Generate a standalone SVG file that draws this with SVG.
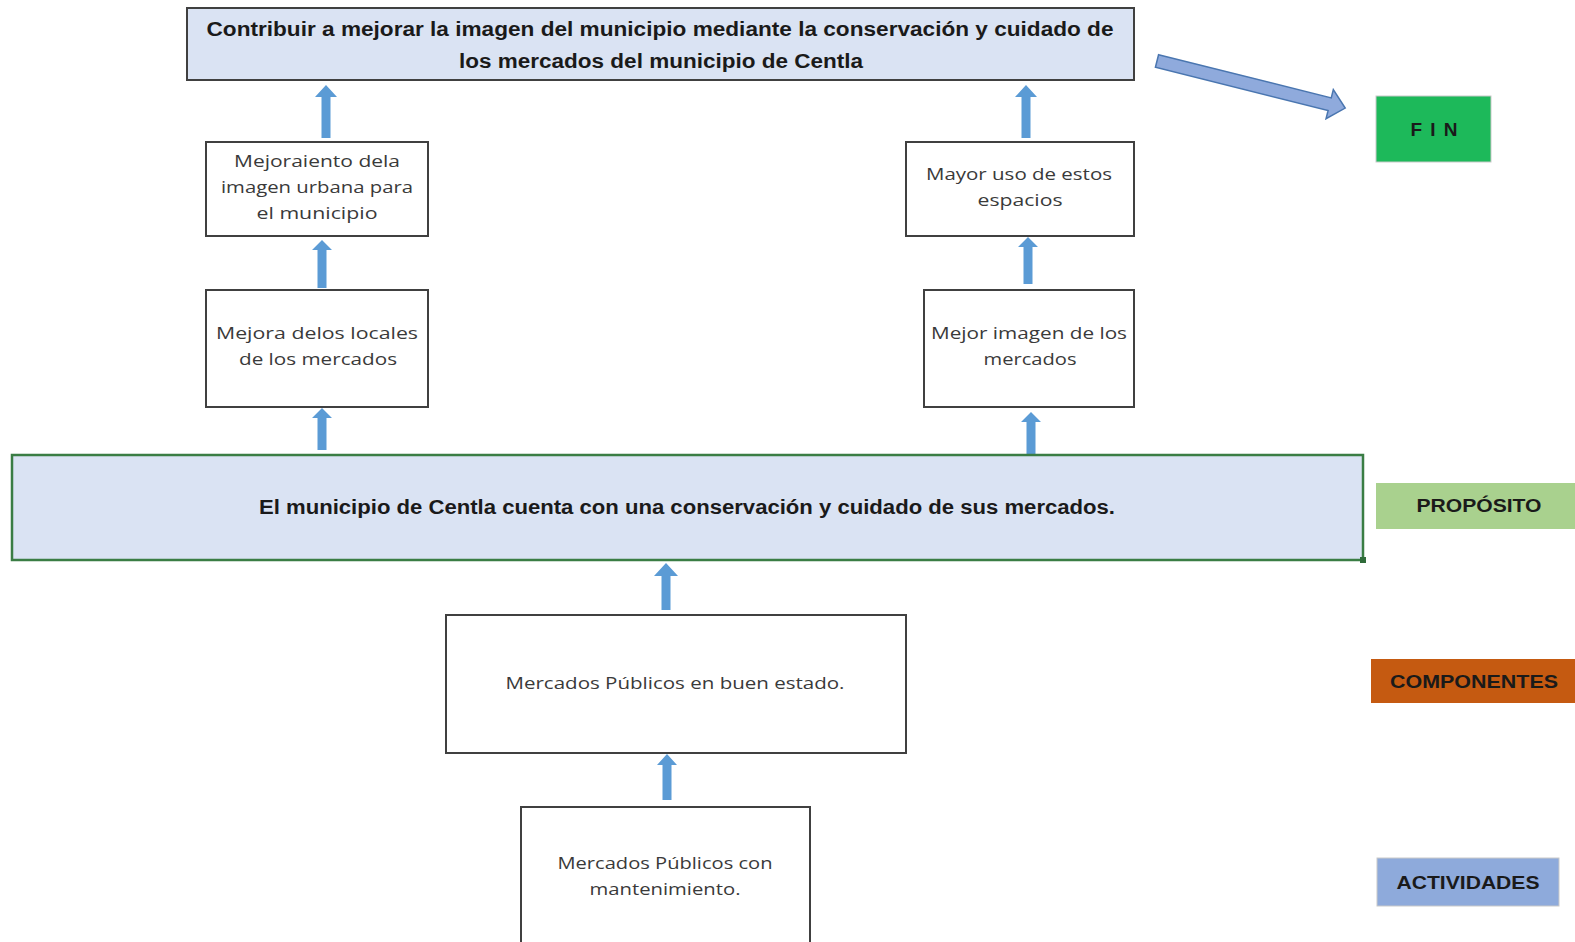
<svg xmlns="http://www.w3.org/2000/svg" width="1575" height="942" viewBox="0 0 1575 942">
<style>
.box{fill:#ffffff;stroke:#404040;stroke-width:2}
.blue{fill:#dae3f3;stroke:#404040;stroke-width:2}
.bold{font-family:"Liberation Sans",Arial,sans-serif;font-weight:bold;font-size:20px;fill:#1a1a1a}
.t{font-family:"Open Sans","DejaVu Sans",sans-serif;font-size:16.5px;fill:#3a3a3a}
.lab{font-family:"Liberation Sans",Arial,sans-serif;font-weight:bold;font-size:19px;fill:#1a1a1a}
.up{fill:#5b9bd5}
</style>

<g id="connectors">
<path class="up" d="M321.5,138 V97 H315 L326,85 L337,97 H330.5 V138 Z"/>
<path class="up" d="M1021.5,138 V97 H1015 L1026,85 L1037,97 H1030.5 V138 Z"/>
<path class="up" d="M317.5,288 V250 H312 L322,240 L332,250 H326.5 V288 Z"/>
<path class="up" d="M1023.5,284 V247 H1018 L1028,237 L1038,247 H1032.5 V284 Z"/>
<path class="up" d="M317.5,450 V418 H312 L322,408 L332,418 H326.5 V450 Z"/>
<path class="up" d="M1026.5,454 V422 H1021 L1031,412 L1041,422 H1035.5 V454 Z"/>
<path class="up" d="M661.5,610 V576 H654 L666,563 L678,576 H670.5 V610 Z"/>
<path class="up" d="M662.5,800 V765 H657 L667,754 L677,765 H671.5 V800 Z"/>
<g transform="translate(1157,61) rotate(14.04)">
<path d="M0,-6.5 H178 V-15 L194,0 L178,15 V6.5 H0 Z" fill="#8faadc" stroke="#4a76b0" stroke-width="1.5"/>
</g>
</g>

<g id="fin-top">
<rect class="blue" x="187" y="8" width="947" height="72"/>
<text class="bold" x="660" y="36" text-anchor="middle" textLength="907" lengthAdjust="spacingAndGlyphs">Contribuir a mejorar la imagen del municipio mediante la conservación y cuidado de</text>
<text class="bold" x="661" y="68" text-anchor="middle" textLength="404" lengthAdjust="spacingAndGlyphs">los mercados del municipio de Centla</text>
</g>

<g id="n-mejoraiento">
<rect class="box" x="206" y="142" width="222" height="94"/>
<text class="t" x="317" y="167" text-anchor="middle" textLength="166" lengthAdjust="spacingAndGlyphs">Mejoraiento dela</text>
<text class="t" x="317" y="193" text-anchor="middle" textLength="192" lengthAdjust="spacingAndGlyphs">imagen urbana para</text>
<text class="t" x="317" y="219" text-anchor="middle" textLength="121" lengthAdjust="spacingAndGlyphs">el municipio</text>
</g>

<g id="n-mejora-locales">
<rect class="box" x="206" y="290" width="222" height="117"/>
<text class="t" x="317" y="339" text-anchor="middle" textLength="202" lengthAdjust="spacingAndGlyphs">Mejora delos locales</text>
<text class="t" x="318" y="365" text-anchor="middle" textLength="158" lengthAdjust="spacingAndGlyphs">de los mercados</text>
</g>

<g id="n-mayor-uso">
<rect class="box" x="906" y="142" width="228" height="94"/>
<text class="t" x="1019" y="180" text-anchor="middle" textLength="186" lengthAdjust="spacingAndGlyphs">Mayor uso de estos</text>
<text class="t" x="1020" y="206" text-anchor="middle" textLength="85" lengthAdjust="spacingAndGlyphs">espacios</text>
</g>

<g id="n-mejor-imagen">
<rect class="box" x="924" y="290" width="210" height="117"/>
<text class="t" x="1029" y="339" text-anchor="middle" textLength="196" lengthAdjust="spacingAndGlyphs">Mejor imagen de los</text>
<text class="t" x="1030" y="365" text-anchor="middle" textLength="93" lengthAdjust="spacingAndGlyphs">mercados</text>
</g>

<g id="n-proposito">
<rect x="12" y="455" width="1351" height="105" fill="#dae3f3" stroke="#3a7d44" stroke-width="2.5"/>
<rect x="1360" y="557" width="6" height="6" fill="#2f6b3a"/>
<text class="bold" x="687" y="514" text-anchor="middle" textLength="856" lengthAdjust="spacingAndGlyphs">El municipio de Centla cuenta con una conservación y cuidado de sus mercados.</text>
</g>

<g id="n-componente">
<rect class="box" x="446" y="615" width="460" height="138"/>
<text class="t" x="675" y="689" text-anchor="middle" textLength="339" lengthAdjust="spacingAndGlyphs">Mercados Públicos en buen estado.</text>
</g>

<g id="n-actividad">
<rect class="box" x="521" y="807" width="289" height="145"/>
<text class="t" x="665" y="869" text-anchor="middle" textLength="215" lengthAdjust="spacingAndGlyphs">Mercados Públicos con</text>
<text class="t" x="665" y="895" text-anchor="middle" textLength="151" lengthAdjust="spacingAndGlyphs">mantenimiento.</text>
</g>

<g id="label-fin">
<rect x="1376" y="96" width="115" height="66" fill="#1db95a" stroke="#c9c9c9" stroke-width="1"/>
<text class="lab" x="1434" y="136" text-anchor="middle" font-size="17" textLength="47" lengthAdjust="spacing" fill="#0d2a14">FIN</text>
</g>

<g id="label-proposito">
<rect x="1376" y="483" width="199" height="46" fill="#a9d18e"/>
<text class="lab" x="1479" y="512" text-anchor="middle" textLength="125" lengthAdjust="spacingAndGlyphs">PROPÓSITO</text>
</g>

<g id="label-componentes">
<rect x="1371" y="659" width="204" height="44" fill="#c55a11"/>
<text class="lab" x="1474" y="688" text-anchor="middle" textLength="168" lengthAdjust="spacingAndGlyphs">COMPONENTES</text>
</g>

<g id="label-actividades">
<rect x="1377" y="858" width="182" height="48" fill="#8eaadb" stroke="#c9c9c9" stroke-width="1"/>
<text class="lab" x="1468" y="889" text-anchor="middle" textLength="143" lengthAdjust="spacingAndGlyphs">ACTIVIDADES</text>
</g>
</svg>
